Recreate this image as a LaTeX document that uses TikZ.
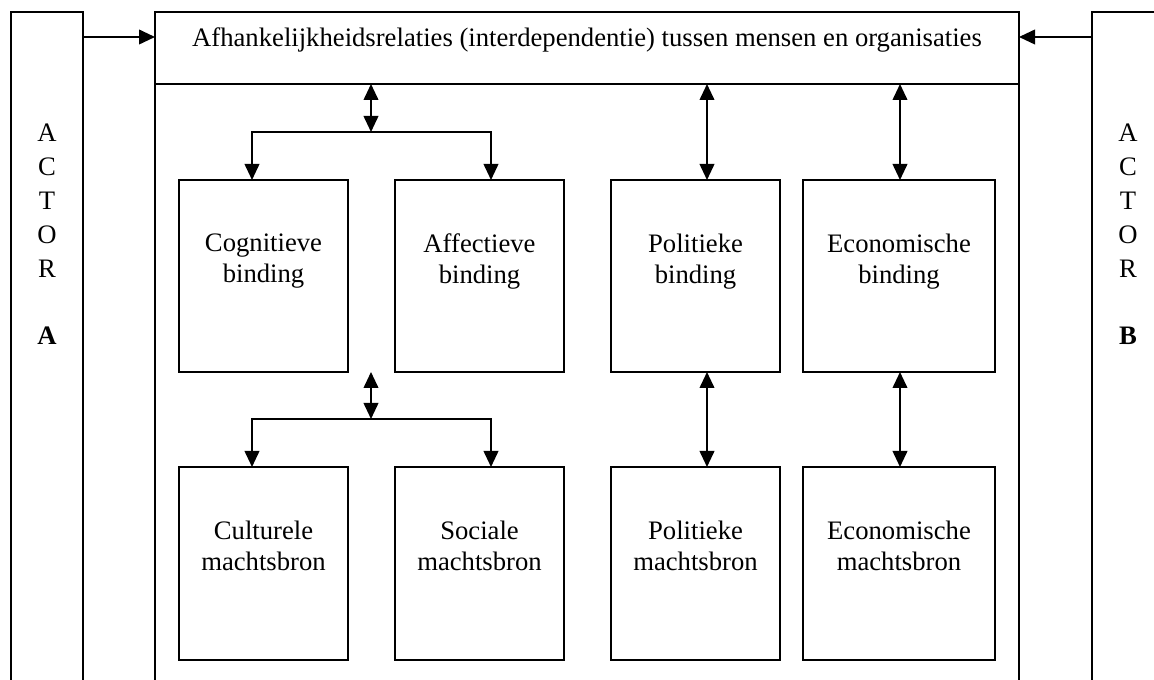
\documentclass[tikz,border=0pt]{standalone}
\usepackage{fontspec}
\setmainfont{Liberation Serif}
\usetikzlibrary{arrows.meta}
\begin{document}
\begin{tikzpicture}[x=0.75pt,y=-0.75pt,
  every node/.style={inner sep=0pt,outer sep=0pt},
  frame/.style={draw,line width=1.35pt,rectangle},
  lbl/.style={align=center,font=\fontsize{20}{23.3}\selectfont,anchor=north},
  actorlbl/.style={align=center,font=\fontsize{20}{25.4}\selectfont,anchor=north},
  link/.style={line width=1.35pt,-{Triangle[length=12pt,width=11pt]}},
  dlink/.style={line width=1.35pt,{Triangle[length=12pt,width=11pt]}-{Triangle[length=12pt,width=11pt]}}]
\useasboundingbox (0,0) rectangle (1154,680);
\clip (0,0) rectangle (1154,680);

% outer frames
\node[frame,minimum width=54pt,minimum height=531pt] (actorA) at (47,366) {};
\node[frame,minimum width=54pt,minimum height=531pt] (actorB) at (1128,366) {};
\node[frame,minimum width=648pt,minimum height=531pt] (mainbox) at (587,366) {};
\node[frame,minimum width=648pt,minimum height=54pt] (topbox) at (587,48) {};
\node[font=\fontsize{20}{24}\selectfont,anchor=base] (toptext) at (587,47)
  {Afhankelijkheidsrelaties (interdependentie) tussen mensen en organisaties};

% actor labels
\node[actorlbl] (actorAtext) at (47,124) {A\\C\\T\\O\\R\\[25.4pt]\textbf{A}};
\node[actorlbl] (actorBtext) at (1128,124) {A\\C\\T\\O\\R\\[25.4pt]\textbf{B}};

% bindings (upper row)
\node[frame,minimum width=126.75pt,minimum height=144pt] (cog) at (263.5,276) {};
\node[frame,minimum width=126.75pt,minimum height=144pt] (aff) at (479.5,276) {};
\node[frame,minimum width=126.75pt,minimum height=144pt] (pol) at (695.5,276) {};
\node[frame,minimum width=144pt,minimum height=144pt] (eco) at (899,276) {};
% power sources (lower row)
\node[frame,minimum width=126.75pt,minimum height=144.75pt] (cul) at (263.5,563.5) {};
\node[frame,minimum width=126.75pt,minimum height=144.75pt] (soc) at (479.5,563.5) {};
\node[frame,minimum width=126.75pt,minimum height=144.75pt] (polm) at (695.5,563.5) {};
\node[frame,minimum width=144pt,minimum height=144.75pt] (ecom) at (899,563.5) {};

\node[lbl] (cogt) at (263.5,234) {Cognitieve\\binding};
\node[lbl] (afft) at (479.5,234) {Affectieve\\binding};
\node[lbl] (polt) at (695.5,234) {Politieke\\binding};
\node[lbl] (ecot) at (899,234) {Economische\\binding};
\node[lbl] (cult) at (263.5,521) {Culturele\\machtsbron};
\node[lbl] (soct) at (479.5,521) {Sociale\\machtsbron};
\node[lbl] (polmt) at (695.5,521) {Politieke\\machtsbron};
\node[lbl] (ecomt) at (899,521) {Economische\\machtsbron};

% actors feed the relations
\coordinate (arow) at (0,37);
\draw[link] (actorA.east |- arow) -- (topbox.west |- arow);
\draw[link] (actorB.west |- arow) -- (topbox.east |- arow);

% branch to cognitive / affective binding
\coordinate (j1) at (371,132);
\coordinate (j1l) at (252,132);
\coordinate (j1r) at (491,132);
\draw[dlink] (j1 |- topbox.south) -- (j1);
\draw[link] (j1) -- (j1l) -- (j1l |- cog.north);
\draw[link] (j1) -- (j1r) -- (j1r |- aff.north);

% branch to cultural / social power sources
\coordinate (j2) at (371,419);
\coordinate (j2l) at (252,419);
\coordinate (j2r) at (491,419);
\draw[dlink] (j2 |- cog.south) -- (j2);
\draw[link] (j2) -- (j2l) -- (j2l |- cul.north);
\draw[link] (j2) -- (j2r) -- (j2r |- soc.north);

% political and economic columns
\coordinate (pc) at (707,0);
\coordinate (ec) at (900,0);
\draw[dlink] (pc |- topbox.south) -- (pc |- pol.north);
\draw[dlink] (ec |- topbox.south) -- (ec |- eco.north);
\draw[dlink] (pc |- pol.south) -- (pc |- polm.north);
\draw[dlink] (ec |- eco.south) -- (ec |- ecom.north);
\end{tikzpicture}
\end{document}
